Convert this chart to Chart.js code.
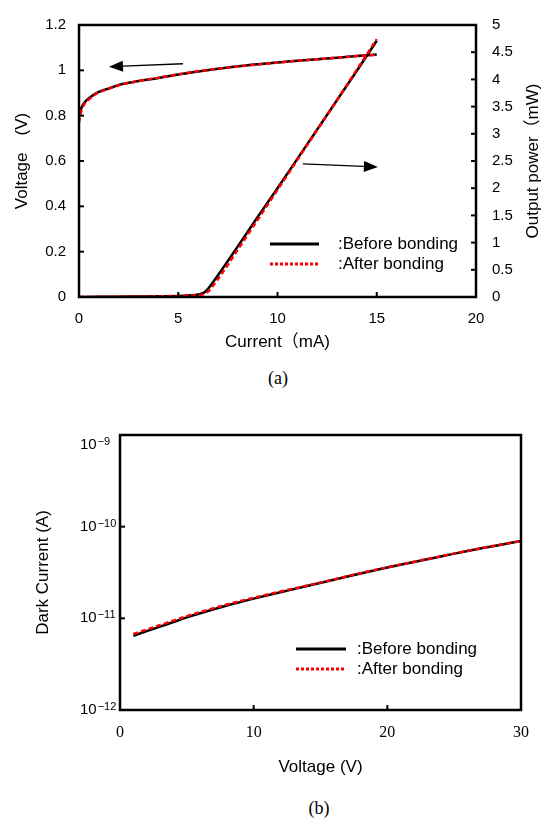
<!DOCTYPE html>
<html>
<head>
<meta charset="utf-8">
<script src="https://cdn.jsdelivr.net/npm/chart.js@4"></script>
<style>
  html, body { margin: 0; padding: 0; background: #fff; }
  body { width: 543px; height: 819px; position: relative; overflow: hidden; }
  canvas { position: absolute; left: 0; }
  #cvA { top: 0; }
  #cvB { top: 420px; }
  .cap { position: absolute; font-family: "Liberation Serif", "Times New Roman", serif; font-size: 18px;
         color: #000; transform: translate(-50%, -50%); white-space: nowrap; }
</style>
</head>
<body>
<canvas id="cvA" width="543" height="360"></canvas>
<canvas id="cvB" width="543" height="370"></canvas>
<div class="cap" style="left:278px;top:378px">(a)</div>
<div class="cap" style="left:319px;top:808px">(b)</div>
<script>
// ---- (a) L-I-V data ----
const currentV   = [0, 0.1, 0.25, 0.5, 0.75, 1, 1.5, 2, 2.5, 3, 4, 5, 6, 7, 8, 9, 10, 11, 12, 13, 14, 15];
const voltBefore = [0.80, 0.83, 0.855, 0.877, 0.893, 0.905, 0.92, 0.935, 0.945, 0.953, 0.966, 0.982, 0.995, 1.007, 1.018, 1.027, 1.035, 1.042, 1.049, 1.056, 1.063, 1.07];
const voltAfter  = [0.77, 0.815, 0.848, 0.872, 0.89, 0.903, 0.919, 0.934, 0.944, 0.953, 0.967, 0.982, 0.996, 1.007, 1.017, 1.026, 1.034, 1.042, 1.049, 1.056, 1.063, 1.068];
const currentP   = [0, 1, 2, 3, 4, 5, 5.5, 6, 6.3, 6.5, 7, 8, 9, 10, 11, 12, 13, 14, 15];
const powBefore  = [0, 0.003, 0.006, 0.01, 0.014, 0.02, 0.028, 0.045, 0.08, 0.15, 0.40, 0.93, 1.47, 2.0, 2.54, 3.08, 3.62, 4.16, 4.71];
const powAfter   = [0, 0.003, 0.006, 0.01, 0.014, 0.02, 0.026, 0.035, 0.055, 0.10, 0.33, 0.87, 1.42, 1.97, 2.52, 3.07, 3.62, 4.18, 4.74];

// ---- (b) dark current data ----
const biasV      = [1, 2, 3, 4, 5, 6, 8, 10, 12, 14, 16, 18, 20, 22, 24, 26, 28, 30];
const darkBefore = [6.457e-12, 7.244e-12, 8.128e-12, 9.12e-12, 1.023e-11, 1.135e-11, 1.38e-11, 1.641e-11, 1.928e-11, 2.249e-11, 2.63e-11, 3.09e-11, 3.589e-11, 4.121e-11, 4.732e-11, 5.433e-11, 6.166e-11, 6.998e-11];
const darkAfter  = [6.75e-12, 7.55e-12, 8.45e-12, 9.45e-12, 1.058e-11, 1.17e-11, 1.415e-11, 1.675e-11, 1.96e-11, 2.28e-11, 2.66e-11, 3.115e-11, 3.61e-11, 4.14e-11, 4.75e-11, 5.45e-11, 6.18e-11, 7.01e-11];
const decades    = [1e-12, 1e-11, 1e-10, 1e-9];

const legendLabels = [':Before bonding', ':After bonding'];

const SANS  = '"Liberation Sans", Arial, "Noto Sans CJK JP", sans-serif';
const SERIF = '"Liberation Serif", "Times New Roman", serif';
const RED = '#ff0000';

Chart.defaults.font.family = SANS;
Chart.defaults.color = '#000';
Chart.defaults.animation = false;

const pts = (xs, ys) => xs.map((x, i) => ({ x, y: ys[i] }));
const plainNum = v => String(Math.round(v * 100) / 100);

// frame, inward ticks, arrows, legend, extra labels
const framePlugin = {
  id: 'frame',
  afterDraw(chart, args, o) {
    const { ctx, chartArea: a, scales } = chart;
    ctx.save();
    ctx.strokeStyle = '#000';
    ctx.fillStyle = '#000';

    ctx.lineWidth = 2;
    (o.inner || []).forEach(({ id, side }) => {
      const s = scales[id];
      s.ticks.forEach(t => {
        const p = s.getPixelForValue(t.value);
        ctx.beginPath();
        if (side === 'bottom') { ctx.moveTo(p, a.bottom); ctx.lineTo(p, a.bottom - 5); }
        if (side === 'left')   { ctx.moveTo(a.left, p);  ctx.lineTo(a.left + 5, p); }
        if (side === 'right')  { ctx.moveTo(a.right, p); ctx.lineTo(a.right - 5, p); }
        ctx.stroke();
      });
    });

    ctx.lineWidth = 2.5;
    ctx.strokeRect(a.left, a.top, a.width, a.height);

    (o.arrows || []).forEach(ar => {
      const ys = scales[ar.axis];
      const x1 = scales.x.getPixelForValue(ar.from[0]), y1 = ys.getPixelForValue(ar.from[1]);
      const x2 = scales.x.getPixelForValue(ar.to[0]),   y2 = ys.getPixelForValue(ar.to[1]);
      const ang = Math.atan2(y2 - y1, x2 - x1);
      const hl = 14, hw = 5.5;
      const bx = x2 - hl * Math.cos(ang), by = y2 - hl * Math.sin(ang);
      ctx.lineWidth = 1.3;
      ctx.beginPath(); ctx.moveTo(x1, y1); ctx.lineTo(bx, by); ctx.stroke();
      ctx.beginPath();
      ctx.moveTo(x2, y2);
      ctx.lineTo(bx + hw * Math.sin(ang), by - hw * Math.cos(ang));
      ctx.lineTo(bx - hw * Math.sin(ang), by + hw * Math.cos(ang));
      ctx.closePath(); ctx.fill();
    });

    const lg = o.legend;
    if (lg) {
      ctx.font = '17px ' + SANS;
      ctx.textBaseline = 'middle';
      ctx.textAlign = 'left';
      lg.rows.forEach((r, i) => {
        ctx.strokeStyle = r.color;
        ctx.lineWidth = 3;
        ctx.setLineDash(r.dash);
        ctx.beginPath(); ctx.moveTo(lg.x0, r.y); ctx.lineTo(lg.x1, r.y); ctx.stroke();
        ctx.setLineDash([]);
        ctx.fillStyle = '#000';
        ctx.fillText(legendLabels[i], lg.tx, r.y);
      });
    }

    if (o.rightTitle) {
      const s = scales.y1;
      ctx.save();
      ctx.font = '17px ' + SANS;
      ctx.textAlign = 'center';
      ctx.textBaseline = 'middle';
      ctx.translate(533, (s.top + s.bottom) / 2);
      ctx.rotate(-Math.PI / 2);
      ctx.fillText(o.rightTitle, 0, 0);
      ctx.restore();
    }

    if (o.logLabels) {
      const s = scales.y;
      const sup = { '-': '\u2212' };
      s.ticks.forEach(t => {
        const e = Math.round(Math.log10(t.value));
        const y = Math.max(s.getPixelForValue(t.value), a.top + 10);
        ctx.textAlign = 'left';
        ctx.textBaseline = 'middle';
        ctx.font = '15px ' + SANS;
        ctx.fillText('10', 80, y);
        const w = ctx.measureText('10').width;
        ctx.font = '11px ' + SANS;
        ctx.fillText(String(e).split('').map(c => sup[c] || c).join(''), 81 + w, y - 3);
      });
    }
    ctx.restore();
  }
};

const lineDs = (label, data, color, dash, yAxisID, order) => ({
  label, data, yAxisID, order,
  borderColor: color, borderWidth: 2.5, borderDash: dash,
  pointRadius: 0, fill: false, cubicInterpolationMode: 'monotone'
});

// ---- chart (a) ----
new Chart(document.getElementById('cvA'), {
  type: 'line',
  data: {
    datasets: [
      lineDs('V after',  pts(currentV, voltAfter),  RED,    [5, 3], 'y',  0),
      lineDs('P after',  pts(currentP, powAfter),   RED,    [5, 3], 'y1', 0),
      lineDs('V before', pts(currentV, voltBefore), '#000', [],     'y',  1),
      lineDs('P before', pts(currentP, powBefore),  '#000', [],     'y1', 1),
    ]
  },
  options: {
    responsive: false, events: [],
    layout: { padding: { top: 17, left: 0, right: 0, bottom: 0 } },
    plugins: {
      legend: { display: false }, tooltip: { enabled: false },
      frame: {
        inner: [{ id: 'x', side: 'bottom' }, { id: 'y', side: 'left' }, { id: 'y1', side: 'right' }],
        arrows: [
          { axis: 'y',  from: [5.24, 1.029], to: [1.51, 1.016] },
          { axis: 'y1', from: [11.28, 2.446], to: [15.06, 2.39] },
        ],
        legend: { x0: 270, x1: 319, tx: 338, rows: [
          { y: 244, color: '#000', dash: [] },
          { y: 264, color: RED, dash: [3, 2] },
        ] },
        rightTitle: 'Output power（mW)'
      }
    },
    scales: {
      x: {
        type: 'linear', min: 0, max: 20,
        ticks: { stepSize: 5, padding: 13, font: { size: 15 }, maxRotation: 0, callback: plainNum },
        grid: { display: false, drawTicks: false }, border: { display: false },
        title: { display: true, text: 'Current（mA)', font: { size: 17 }, padding: { top: 0, bottom: 7.8 } },
        afterFit: s => { s.height = 63; }
      },
      y: {
        position: 'left', min: 0, max: 1.2,
        ticks: { stepSize: 0.2, padding: 13, font: { size: 15 }, callback: plainNum },
        grid: { display: false, drawTicks: false }, border: { display: false },
        title: { display: true, text: 'Voltage　(V)', font: { size: 17 }, padding: { top: 11.8, bottom: 0 } },
        afterFit: s => { s.width = 79; }
      },
      y1: {
        position: 'right', min: 0, max: 5,
        ticks: { stepSize: 0.5, padding: 16, font: { size: 15 }, callback: plainNum },
        grid: { display: false, drawTicks: false }, border: { display: false },
        afterFit: s => { s.width = 67; }
      }
    }
  },
  plugins: [framePlugin]
});

// ---- chart (b) ----
new Chart(document.getElementById('cvB'), {
  type: 'line',
  data: {
    datasets: [
      lineDs('after',  pts(biasV, darkAfter),  RED,    [5, 3], 'y', 0),
      lineDs('before', pts(biasV, darkBefore), '#000', [],     'y', 1),
    ]
  },
  options: {
    responsive: false, events: [],
    layout: { padding: { top: 15, left: 0, right: 22, bottom: 0 } },
    plugins: {
      legend: { display: false }, tooltip: { enabled: false },
      frame: {
        inner: [{ id: 'x', side: 'bottom' }, { id: 'y', side: 'left' }],
        legend: { x0: 296, x1: 346, tx: 357, rows: [
          { y: 229, color: '#000', dash: [] },
          { y: 249, color: RED, dash: [3, 2] },
        ] },
        logLabels: true
      }
    },
    scales: {
      x: {
        type: 'linear', min: 0, max: 30,
        ticks: { stepSize: 10, padding: 13, font: { family: SERIF, size: 16 }, maxRotation: 0, callback: plainNum },
        grid: { display: false, drawTicks: false }, border: { display: false },
        title: { display: true, text: 'Voltage (V)', font: { size: 17 }, padding: { top: 0, bottom: 12.8 } },
        afterFit: s => { s.height = 80; }
      },
      y: {
        type: 'logarithmic', min: 1e-12, max: 1e-9,
        afterBuildTicks: s => { s.ticks = decades.map(v => ({ value: v })); },
        ticks: { display: false },
        grid: { display: false, drawTicks: false }, border: { display: false },
        title: { display: true, text: 'Dark Current (A)', font: { size: 17 }, padding: { top: 32.8, bottom: 0 } },
        afterFit: s => { s.width = 120; }
      }
    }
  },
  plugins: [framePlugin]
});
</script>
</body>
</html>
